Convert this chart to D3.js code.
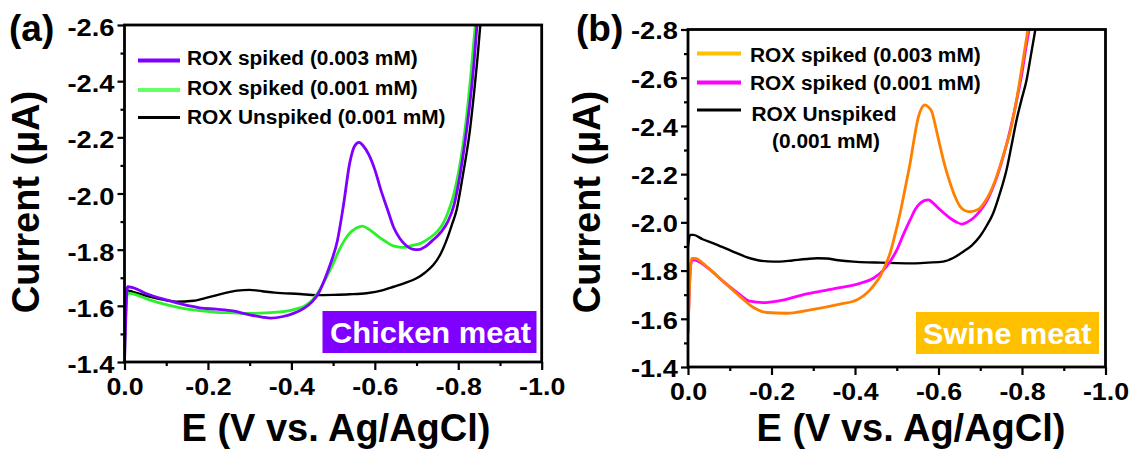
<!DOCTYPE html>
<html>
<head>
<meta charset="utf-8">
<script src="https://cdn.jsdelivr.net/npm/d3@7"></script>
<style>
  html, body { margin: 0; padding: 0; background: #fff; }
  svg { display: block; font-family: "Liberation Sans", Arial, sans-serif; font-weight: bold; }
</style>
</head>
<body>
<svg id="chart" width="1132" height="449"></svg>
<script>
// ---- x axis (potential, V) ----
const xMajorTicks = [0, -0.2, -0.4, -0.6, -0.8, -1.0];
const xMinorTicks = [-0.1, -0.3, -0.5, -0.7, -0.9];
const xTickLabels = ["0.0", "-0.2", "-0.4", "-0.6", "-0.8", "-1.0"];

// ---- y axis (current, µA) ----
const yMajorTicksA = [-1.4, -1.6, -1.8, -2.0, -2.2, -2.4, -2.6];
const yMinorTicksA = [-1.5, -1.7, -1.9, -2.1, -2.3, -2.5];
const yTickLabelsA = ["-1.4", "-1.6", "-1.8", "-2.0", "-2.2", "-2.4", "-2.6"];
const yMajorTicksB = [-1.4, -1.6, -1.8, -2.0, -2.2, -2.4, -2.6, -2.8];
const yMinorTicksB = [-1.5, -1.7, -1.9, -2.1, -2.3, -2.5, -2.7];
const yTickLabelsB = ["-1.4", "-1.6", "-1.8", "-2.0", "-2.2", "-2.4", "-2.6", "-2.8"];

// ---- (a) chicken meat ----
const chickenSpiked003E = [0.000, -0.004, -0.007, -0.02, -0.05, -0.10, -0.14, -0.18, -0.22, -0.26, -0.30, -0.33, -0.35, -0.38, -0.405, -0.43, -0.45, -0.465, -0.48, -0.495, -0.51, -0.525, -0.54, -0.552, -0.562, -0.572, -0.585, -0.60, -0.615, -0.63, -0.645, -0.66, -0.675, -0.69, -0.705, -0.72, -0.74, -0.76, -0.775, -0.79, -0.80, -0.81, -0.82, -0.83, -0.838, -0.846];
const chickenSpiked003I = [-1.40, -1.60, -1.668, -1.665, -1.645, -1.621, -1.605, -1.593, -1.588, -1.582, -1.568, -1.560, -1.556, -1.562, -1.573, -1.591, -1.615, -1.645, -1.695, -1.755, -1.83, -1.96, -2.11, -2.17, -2.182, -2.170, -2.14, -2.085, -2.01, -1.945, -1.88, -1.84, -1.815, -1.802, -1.800, -1.810, -1.835, -1.865, -1.90, -1.96, -2.03, -2.12, -2.226, -2.35, -2.47, -2.62];

const chickenSpiked001E = [0.000, -0.004, -0.008, -0.02, -0.06, -0.10, -0.14, -0.18, -0.22, -0.26, -0.30, -0.34, -0.38, -0.41, -0.43, -0.45, -0.465, -0.48, -0.50, -0.515, -0.533, -0.545, -0.557, -0.570, -0.582, -0.596, -0.61, -0.625, -0.64, -0.655, -0.67, -0.69, -0.71, -0.73, -0.75, -0.764, -0.776, -0.788, -0.80, -0.812, -0.822, -0.83, -0.836, -0.842];
const chickenSpiked001I = [-1.40, -1.60, -1.645, -1.643, -1.621, -1.604, -1.591, -1.583, -1.577, -1.575, -1.573, -1.575, -1.579, -1.588, -1.598, -1.620, -1.650, -1.69, -1.75, -1.80, -1.846, -1.866, -1.878, -1.884, -1.876, -1.862, -1.845, -1.830, -1.816, -1.810, -1.808, -1.815, -1.823, -1.840, -1.865, -1.894, -1.935, -1.99, -2.07, -2.18, -2.30, -2.42, -2.52, -2.62];

const chickenUnspikedE = [0.000, -0.005, -0.02, -0.06, -0.10, -0.125, -0.165, -0.20, -0.24, -0.27, -0.30, -0.33, -0.36, -0.42, -0.46, -0.50, -0.54, -0.58, -0.62, -0.645, -0.67, -0.70, -0.72, -0.74, -0.756, -0.772, -0.785, -0.796, -0.806, -0.816, -0.828, -0.838, -0.846, -0.854];
const chickenUnspikedI = [-1.60, -1.655, -1.650, -1.633, -1.620, -1.615, -1.618, -1.630, -1.645, -1.654, -1.657, -1.652, -1.647, -1.642, -1.638, -1.639, -1.641, -1.645, -1.656, -1.668, -1.680, -1.698, -1.718, -1.745, -1.78, -1.834, -1.89, -1.941, -2.02, -2.108, -2.226, -2.36, -2.48, -2.62];

// ---- (b) swine meat ----
const swineSpiked003E = [0.000, -0.004, -0.009, -0.017, -0.045, -0.085, -0.125, -0.156, -0.188, -0.236, -0.30, -0.364, -0.404, -0.42, -0.436, -0.45, -0.46, -0.472, -0.484, -0.496, -0.508, -0.52, -0.532, -0.544, -0.552, -0.560, -0.568, -0.576, -0.584, -0.594, -0.604, -0.616, -0.628, -0.640, -0.652, -0.664, -0.675, -0.687, -0.699, -0.711, -0.723, -0.735, -0.747, -0.759, -0.771, -0.783, -0.795, -0.805, -0.816];
const swineSpiked003I = [-1.54, -1.75, -1.851, -1.851, -1.816, -1.754, -1.692, -1.648, -1.626, -1.623, -1.639, -1.661, -1.678, -1.695, -1.720, -1.750, -1.775, -1.82, -1.872, -1.95, -2.038, -2.14, -2.245, -2.37, -2.439, -2.475, -2.487, -2.478, -2.459, -2.39, -2.314, -2.23, -2.162, -2.105, -2.065, -2.048, -2.044, -2.048, -2.058, -2.085, -2.121, -2.17, -2.231, -2.30, -2.370, -2.47, -2.591, -2.70, -2.82];

const swineSpiked001E = [0.000, -0.004, -0.009, -0.017, -0.045, -0.085, -0.125, -0.148, -0.180, -0.220, -0.284, -0.348, -0.412, -0.444, -0.468, -0.485, -0.500, -0.516, -0.532, -0.545, -0.556, -0.566, -0.576, -0.586, -0.596, -0.612, -0.628, -0.642, -0.656, -0.670, -0.683, -0.695, -0.707, -0.719, -0.731, -0.743, -0.755, -0.767, -0.779, -0.790, -0.800, -0.810, -0.820];
const swineSpiked001I = [-1.545, -1.75, -1.844, -1.843, -1.814, -1.754, -1.699, -1.673, -1.667, -1.675, -1.703, -1.724, -1.747, -1.768, -1.802, -1.84, -1.885, -1.95, -2.010, -2.055, -2.079, -2.090, -2.093, -2.082, -2.065, -2.040, -2.017, -2.002, -1.993, -2.002, -2.017, -2.038, -2.065, -2.10, -2.148, -2.205, -2.273, -2.35, -2.439, -2.53, -2.62, -2.73, -2.83];

const swineUnspikedE = [0.000, -0.005, -0.013, -0.035, -0.061, -0.090, -0.117, -0.140, -0.165, -0.190, -0.220, -0.250, -0.284, -0.310, -0.332, -0.360, -0.396, -0.43, -0.460, -0.50, -0.540, -0.575, -0.611, -0.635, -0.659, -0.680, -0.699, -0.715, -0.731, -0.747, -0.763, -0.775, -0.787, -0.799, -0.811, -0.822, -0.834];
const swineUnspikedI = [-1.90, -1.948, -1.948, -1.93, -1.913, -1.892, -1.872, -1.856, -1.844, -1.838, -1.837, -1.842, -1.848, -1.851, -1.850, -1.843, -1.837, -1.834, -1.833, -1.831, -1.830, -1.833, -1.837, -1.852, -1.878, -1.905, -1.941, -1.985, -2.038, -2.12, -2.218, -2.32, -2.425, -2.51, -2.591, -2.70, -2.82];

const svg = d3.select("#chart");

// Stretch text horizontally by factor k (keeps the anchor point fixed)
function stretch(sel, k) {
  sel.each(function () {
    const t = d3.select(this);
    const anchor = getComputedStyle(this).textAnchor;
    const len = this.getComputedTextLength();
    const w = len * k;
    const x = +t.attr("x") || 0;
    const nx = anchor === "end" ? x - w : anchor === "middle" ? x - w / 2 : x;
    t.attr("text-anchor", "start").style("text-anchor", "start")
      .attr("x", nx).attr("textLength", w).attr("lengthAdjust", "spacingAndGlyphs");
  });
}

function drawPanel(cfg) {
  const g = svg.append("g");
  const x = d3.scaleLinear().domain([0, -1.0]).range([cfg.left, cfg.right]);
  const y = d3.scaleLinear().domain(cfg.yDomain).range([cfg.bottom, cfg.top]);

  const clipId = "clip-" + cfg.id;
  svg.append("clipPath").attr("id", clipId).append("rect")
    .attr("x", cfg.left).attr("y", cfg.top)
    .attr("width", cfg.right - cfg.left).attr("height", cfg.bottom - cfg.top);

  // minor ticks
  g.append("g").attr("transform", `translate(0,${cfg.bottom})`)
    .call(d3.axisBottom(x).tickValues(xMinorTicks).tickSize(4).tickFormat(""))
    .call(a => a.select(".domain").remove())
    .call(a => a.selectAll("line").attr("stroke", "#000").attr("stroke-width", 2.2));
  g.append("g").attr("transform", `translate(${cfg.left},0)`)
    .call(d3.axisLeft(y).tickValues(cfg.yMinor).tickSize(4).tickFormat(""))
    .call(a => a.select(".domain").remove())
    .call(a => a.selectAll("line").attr("stroke", "#000").attr("stroke-width", 2.2));

  // major ticks + labels
  const xa = g.append("g").attr("transform", `translate(0,${cfg.bottom})`)
    .call(d3.axisBottom(x).tickValues(xMajorTicks).tickSize(8).tickPadding(8)
      .tickFormat((d, i) => xTickLabels[i]))
    .call(a => a.select(".domain").remove());
  xa.selectAll("line").attr("stroke", "#000").attr("stroke-width", 2.2);
  xa.selectAll("text").attr("font-size", 23.5).attr("font-weight", "bold")
    .attr("fill", "#000").style("font-family", "Liberation Sans, Arial, sans-serif");
  stretch(xa.selectAll("text"), 1.14);

  const ya = g.append("g").attr("transform", `translate(${cfg.left},0)`)
    .call(d3.axisLeft(y).tickValues(cfg.yMajor).tickSize(7).tickPadding(3)
      .tickFormat((d, i) => cfg.yLabels[i]))
    .call(a => a.select(".domain").remove());
  ya.selectAll("line").attr("stroke", "#000").attr("stroke-width", 2.2);
  ya.selectAll("text").attr("font-size", 23.5).attr("font-weight", "bold").attr("dy", cfg.yDy)
    .attr("fill", "#000").style("font-family", "Liberation Sans, Arial, sans-serif");
  stretch(ya.selectAll("text"), 1.16);

  // curves
  const line = d3.line().x(d => x(d[0])).y(d => y(d[1])).curve(d3.curveMonotoneX);
  const curves = g.append("g").attr("clip-path", `url(#${clipId})`);
  cfg.series.forEach(s => {
    const pts = s.E.map((e, i) => [e, s.I[i]]);
    curves.append("path").datum(pts).attr("d", line)
      .attr("fill", "none").attr("stroke", s.color).attr("stroke-width", s.width)
      .attr("stroke-linejoin", "round").attr("stroke-linecap", "round");
  });

  // frame
  g.append("rect").attr("x", cfg.left).attr("y", cfg.top)
    .attr("width", cfg.right - cfg.left).attr("height", cfg.bottom - cfg.top)
    .attr("fill", "none").attr("stroke", "#000").attr("stroke-width", 2.8);

  // legend
  const lg = g.append("g");
  cfg.legend.forEach(l => {
    lg.append("line").attr("x1", l.x1).attr("x2", l.x2).attr("y1", l.ly).attr("y2", l.ly)
      .attr("stroke", l.color).attr("stroke-width", l.width);
    l.lines.forEach(tl => {
      const t = lg.append("text").attr("x", tl.x).attr("y", tl.y)
        .attr("text-anchor", tl.anchor || "start").attr("font-size", 19.5)
        .attr("font-weight", "bold").attr("fill", "#000").text(tl.text);
      stretch(t, 1.07);
    });
  });

  // sample badge
  g.append("rect").attr("x", cfg.badge.x).attr("y", cfg.badge.y)
    .attr("width", cfg.badge.w).attr("height", cfg.badge.h).attr("fill", cfg.badge.color);
  const bt = g.append("text").attr("x", cfg.badge.tx).attr("y", cfg.badge.ty)
    .attr("font-size", 30).attr("font-weight", "bold").attr("fill", "#fff").text(cfg.badge.text);
  stretch(bt, cfg.badge.k);

  // axis titles
  g.append("text").attr("x", cfg.xTitleX).attr("y", 441).attr("text-anchor", "middle")
    .attr("font-size", 38).attr("font-weight", "bold").attr("fill", "#000").text("E (V vs. Ag/AgCl)");
  g.append("text").attr("transform", `translate(${cfg.yTitleX},${cfg.yTitleY}) rotate(-90)`)
    .attr("text-anchor", "middle").attr("font-size", 38).attr("font-weight", "bold")
    .attr("fill", "#000").text("Current (µA)");

  // panel letter
  g.append("text").attr("x", cfg.tagX).attr("y", 41).attr("font-size", 37)
    .attr("font-weight", "bold").attr("fill", "#000").text(cfg.tag);
}

drawPanel({
  id: "a", tag: "(a)", tagX: 9,
  left: 124.5, right: 541.7, top: 25, bottom: 362,
  yDomain: [-1.4, -2.6], yMajor: yMajorTicksA, yMinor: yMinorTicksA, yLabels: yTickLabelsA, yDy: "0.45em",
  xTitleX: 336, yTitleX: 39, yTitleY: 202,
  series: [
    { E: chickenUnspikedE, I: chickenUnspikedI, color: "#000000", width: 2.4 },
    { E: chickenSpiked001E, I: chickenSpiked001I, color: "#2bf02b", width: 2.8 },
    { E: chickenSpiked003E, I: chickenSpiked003I, color: "#7f00ff", width: 2.8 }
  ],
  legend: [
    { x1: 138, x2: 180, ly: 60.5, color: "#7f00ff", width: 4, lines: [{ x: 187, y: 65, text: "ROX spiked (0.003 mM)" }] },
    { x1: 138, x2: 180, ly: 90, color: "#66ff66", width: 4, lines: [{ x: 187, y: 95, text: "ROX spiked (0.001 mM)" }] },
    { x1: 138, x2: 180, ly: 117.5, color: "#000000", width: 3, lines: [{ x: 187, y: 124, text: "ROX Unspiked (0.001 mM)" }] }
  ],
  badge: { x: 322.5, y: 311, w: 214, h: 42, color: "#8000ff", tx: 330, ty: 343, text: "Chicken meat", k: 1.03 }
});

drawPanel({
  id: "b", tag: "(b)", tagX: 576,
  left: 688, right: 1105.5, top: 29.5, bottom: 367,
  yDomain: [-1.4, -2.8], yMajor: yMajorTicksB, yMinor: yMinorTicksB, yLabels: yTickLabelsB, yDy: "0.40em",
  xTitleX: 911, yTitleX: 600, yTitleY: 202,
  series: [
    { E: swineUnspikedE, I: swineUnspikedI, color: "#000000", width: 2.4 },
    { E: swineSpiked001E, I: swineSpiked001I, color: "#ff00ff", width: 2.8 },
    { E: swineSpiked003E, I: swineSpiked003I, color: "#ff8000", width: 2.8 }
  ],
  legend: [
    { x1: 697, x2: 741, ly: 53.5, color: "#ffc000", width: 4, lines: [{ x: 750, y: 61.5, text: "ROX spiked (0.003 mM)" }] },
    { x1: 697, x2: 741, ly: 82.5, color: "#ff00ff", width: 4, lines: [{ x: 750, y: 90, text: "ROX spiked (0.001 mM)" }] },
    { x1: 697, x2: 741, ly: 110, color: "#000000", width: 3, lines: [
      { x: 824, y: 121, text: "ROX Unspiked", anchor: "middle" },
      { x: 826, y: 148, text: "(0.001 mM)", anchor: "middle" }] }
  ],
  badge: { x: 916, y: 312, w: 183, h: 42, color: "#ffc000", tx: 923, ty: 344, text: "Swine meat", k: 1.02 }
});
</script>
</body>
</html>
